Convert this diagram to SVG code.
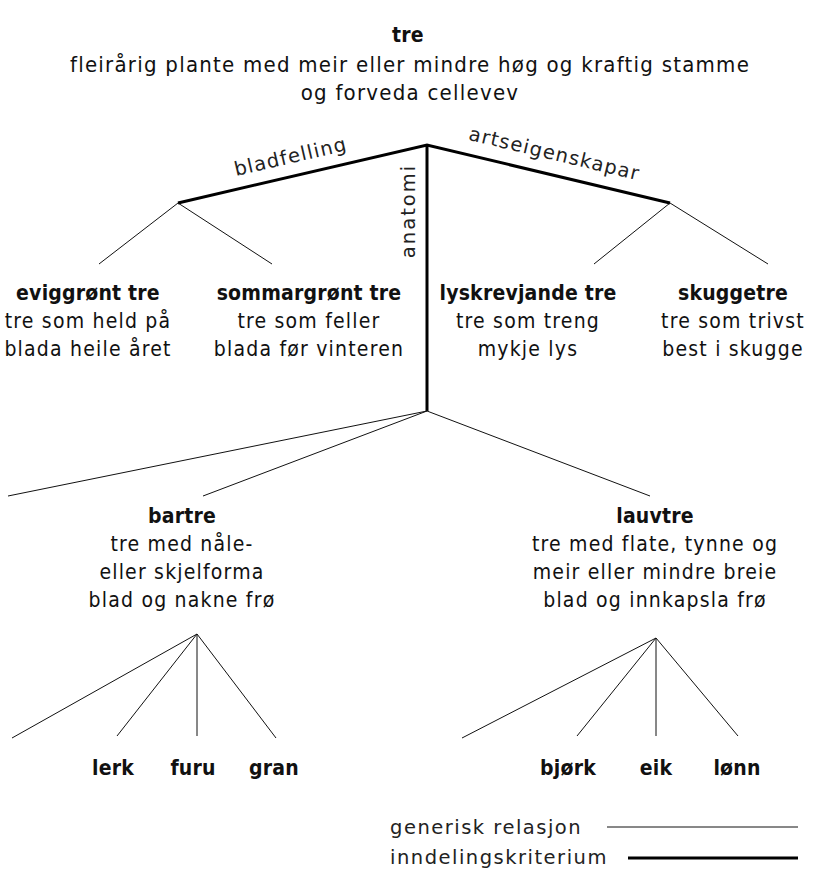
<svg xmlns="http://www.w3.org/2000/svg" width="817" height="872" viewBox="0 0 817 872">
<style>
.t{font-family:"DejaVu Sans Condensed","DejaVu Sans","Liberation Sans",sans-serif;font-stretch:condensed;font-size:21px;letter-spacing:1.2px;fill:#111;text-anchor:middle}
.h{font-size:22px;letter-spacing:1.25px}
.b{font-weight:bold;letter-spacing:0.2px}
.e{font-family:"DejaVu Sans","Liberation Sans",sans-serif;font-size:19.5px;letter-spacing:1.2px;fill:#222;text-anchor:middle}
.l{font-family:"DejaVu Sans","Liberation Sans",sans-serif;font-size:19.5px;letter-spacing:1.5px;fill:#222}
.thin{stroke:#111;stroke-width:1;fill:none}
.thick{stroke:#000;stroke-width:3;fill:none}
</style>
<rect width="817" height="872" fill="#fff"/>
<g id="connectors">
<polyline class="thick" points="178,203 427,145 670,203"/>
<line class="thick" x1="427" y1="145" x2="427" y2="411"/>
<line class="thin" x1="178" y1="203" x2="99" y2="264"/>
<line class="thin" x1="178" y1="203" x2="272" y2="264"/>
<line class="thin" x1="670" y1="203" x2="594" y2="264"/>
<line class="thin" x1="670" y1="203" x2="768" y2="264"/>
<line class="thin" x1="427" y1="411" x2="8" y2="496"/>
<line class="thin" x1="427" y1="411" x2="203" y2="496"/>
<line class="thin" x1="427" y1="411" x2="650" y2="496"/>
<line class="thin" x1="197" y1="634" x2="12" y2="738"/>
<line class="thin" x1="197" y1="634" x2="117" y2="736"/>
<line class="thin" x1="197" y1="634" x2="197" y2="736"/>
<line class="thin" x1="197" y1="634" x2="276" y2="738"/>
<line class="thin" x1="656" y1="638" x2="462" y2="738"/>
<line class="thin" x1="656" y1="638" x2="577" y2="736"/>
<line class="thin" x1="656" y1="638" x2="656" y2="736"/>
<line class="thin" x1="656" y1="638" x2="738" y2="736"/>
<text class="e" transform="translate(292,163) rotate(-13)">bladfelling</text>
<text class="e" transform="translate(553,160) rotate(13.4)">artseigenskapar</text>
<text class="e" transform="translate(415,211) rotate(-90)" style="letter-spacing:2px">anatomi</text>
</g>
<g id="tre">
<text class="t b" x="408" y="42">tre</text>
<text class="t h" x="410" y="72">fleirårig plante med meir eller mindre høg og kraftig stamme</text>
<text class="t h" x="410" y="100">og forveda cellevev</text>
</g>
<g id="eviggront">
<text class="t b" x="88" y="300">eviggrønt tre</text>
<text class="t" x="88" y="328">tre som held på</text>
<text class="t" x="88" y="356">blada heile året</text>
</g>
<g id="sommargront">
<text class="t b" x="309" y="300">sommargrønt tre</text>
<text class="t" x="309" y="328">tre som feller</text>
<text class="t" x="309" y="356">blada før vinteren</text>
</g>
<g id="lyskrevjande">
<text class="t b" x="528" y="300">lyskrevjande tre</text>
<text class="t" x="528" y="328">tre som treng</text>
<text class="t" x="528" y="356">mykje lys</text>
</g>
<g id="skuggetre">
<text class="t b" x="733" y="300">skuggetre</text>
<text class="t" x="733" y="328">tre som trivst</text>
<text class="t" x="733" y="356">best i skugge</text>
</g>
<g id="bartre">
<text class="t b" x="182" y="523">bartre</text>
<text class="t" x="182" y="551">tre med nåle-</text>
<text class="t" x="182" y="579">eller skjelforma</text>
<text class="t" x="182" y="607">blad og nakne frø</text>
</g>
<g id="lauvtre">
<text class="t b" x="655" y="523">lauvtre</text>
<text class="t" x="655" y="551">tre med flate, tynne og</text>
<text class="t" x="655" y="579">meir eller mindre breie</text>
<text class="t" x="655" y="607">blad og innkapsla frø</text>
</g>
<g id="lerk"><text class="t b" x="113" y="775">lerk</text></g>
<g id="furu"><text class="t b" x="193" y="775">furu</text></g>
<g id="gran"><text class="t b" x="274" y="775">gran</text></g>
<g id="bjork"><text class="t b" x="568" y="775">bjørk</text></g>
<g id="eik"><text class="t b" x="656" y="775">eik</text></g>
<g id="lonn"><text class="t b" x="737" y="775">lønn</text></g>
<g id="legend">
<text class="l" x="390" y="834">generisk relasjon</text>
<text class="l" x="390" y="864">inndelingskriterium</text>
<line class="thin" x1="607" y1="827" x2="798" y2="827"/>
<line class="thick" x1="628" y1="858" x2="798" y2="858"/>
</g>
</svg>
